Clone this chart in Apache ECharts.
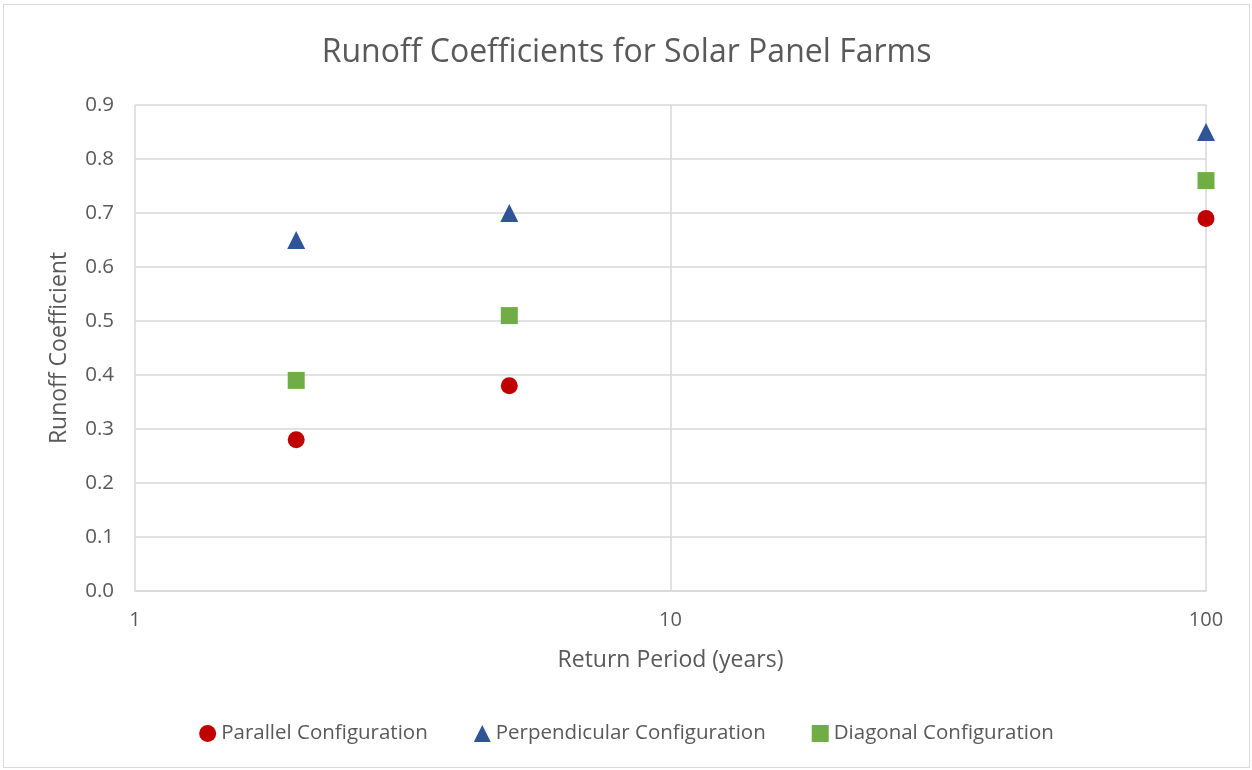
<!DOCTYPE html>
<html>
<head>
<meta charset="utf-8">
<script src="https://cdn.jsdelivr.net/npm/echarts@6/dist/echarts.min.js"></script>
<style>
  html, body { margin: 0; padding: 0; background: #fff; }
  #chart { position: absolute; left: 3px; top: 4px; width: 1247px; height: 764px; border: 1px solid #d9d9d9; box-sizing: border-box; }
</style>
</head>
<body>
<div id="chart"></div>
<script>
var returnPeriods = [2, 5, 100];
var parallelVals = [0.28, 0.38, 0.69];
var perpendicularVals = [0.65, 0.70, 0.85];
var diagonalVals = [0.39, 0.51, 0.76];
var yTicks = [0, 0.1, 0.2, 0.3, 0.4, 0.5, 0.6, 0.7, 0.8, 0.9];

function pairs(xs, ys) {
    return xs.map(function(x, i) { return [x, ys[i]]; });
}

var chart = echarts.init(document.getElementById('chart'));
var font = '"Open Sans", sans-serif';
var textColor = '#595959';

var option = {
    title: {
        text: 'Runoff Coefficients for Solar Panel Farms',
        left: 'center',
        top: 27,
        textStyle: { fontFamily: font, fontSize: 32, fontWeight: 'normal', color: textColor }
    },
    legend: {
        bottom: 18,
        left: 'center',
        itemGap: 46,
        itemWidth: 17,
        itemHeight: 17,
        textStyle: { fontFamily: font, fontSize: 20.5, color: textColor },
        data: [
            { name: 'Parallel Configuration', icon: 'circle' },
            { name: 'Perpendicular Configuration', icon: 'triangle' },
            { name: 'Diagonal Configuration', icon: 'rect' }
        ]
    },
    grid: { left: 131, right: 43, top: 100, bottom: 176 },
    xAxis: {
        type: 'log',
        logBase: 10,
        min: 1,
        max: 100,
        name: 'Return Period (years)',
        nameLocation: 'middle',
        nameGap: 58,
        nameTextStyle: { fontFamily: font, fontSize: 23, color: textColor },
        axisLine: { show: true, lineStyle: { color: '#d9d9d9', width: 1.5 } },
        axisTick: { show: false },
        splitLine: { show: true, lineStyle: { color: '#d9d9d9', width: 1.5 } },
        axisLabel: { fontFamily: font, fontSize: 20, color: textColor, margin: 19 }
    },
    yAxis: {
        type: 'value',
        min: 0,
        max: 0.9,
        interval: 0.1,
        name: 'Runoff Coefficient',
        nameLocation: 'middle',
        nameGap: 64,
        nameTextStyle: { fontFamily: font, fontSize: 23, color: textColor },
        axisLine: { show: false },
        axisTick: { show: false },
        splitLine: { show: true, lineStyle: { color: '#d9d9d9', width: 1.5 } },
        axisLabel: {
            fontFamily: font, fontSize: 20.5, color: textColor, margin: 21,
            formatter: function(v) { return v.toFixed(1); }
        }
    },
    series: [{
        name: 'Parallel Configuration',
        type: 'scatter',
        symbol: 'circle',
        symbolSize: 17,
        itemStyle: { color: '#C00000', opacity: 1 },
        data: pairs(returnPeriods, parallelVals)
    }, {
        name: 'Perpendicular Configuration',
        type: 'scatter',
        symbol: 'triangle',
        symbolSize: 18,
        itemStyle: { color: '#2F5597', opacity: 1 },
        data: pairs(returnPeriods, perpendicularVals)
    }, {
        name: 'Diagonal Configuration',
        type: 'scatter',
        symbol: 'rect',
        symbolSize: 17,
        itemStyle: { color: '#70AD47', opacity: 1 },
        data: pairs(returnPeriods, diagonalVals)
    }]
};

chart.setOption(option);
</script>
</body>
</html>
